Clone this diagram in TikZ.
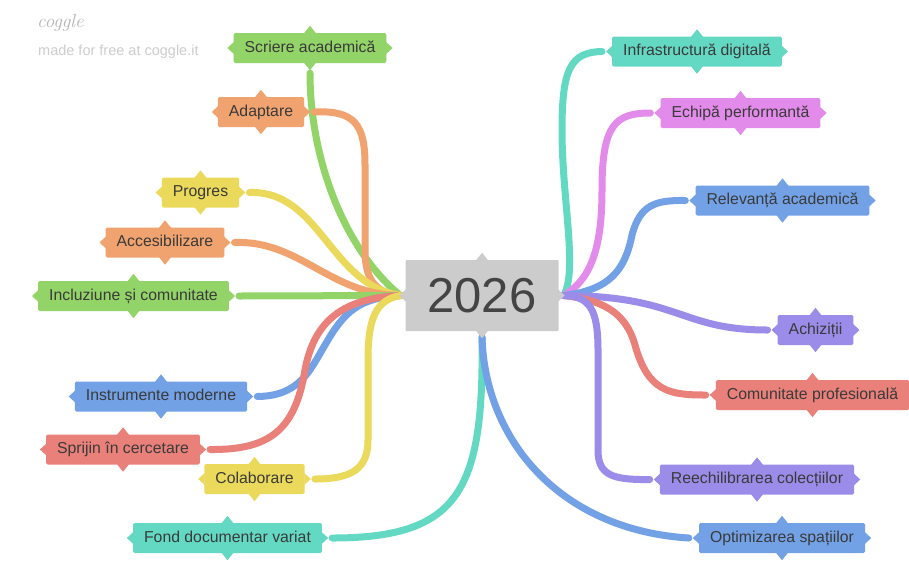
\documentclass[tikz,border=0pt]{standalone}
\usepackage{fontspec}
\newfontfamily\labelfont{Liberation Sans}
\usetikzlibrary{backgrounds}
\definecolor{cgreen}{HTML}{93D468}
\definecolor{corange}{HTML}{F0A36E}
\definecolor{cyellow}{HTML}{EBD95B}
\definecolor{cblue}{HTML}{73A1E6}
\definecolor{cred}{HTML}{E9807A}
\definecolor{cteal}{HTML}{63D9C3}
\definecolor{cpink}{HTML}{E38BEA}
\definecolor{cpurple}{HTML}{9A8CE8}
\definecolor{hubgray}{HTML}{CCCCCC}
\definecolor{ink}{HTML}{3A3A3A}
\definecolor{hubink}{HTML}{444444}
\definecolor{logogray}{HTML}{B4B4B4}
\definecolor{creditgray}{HTML}{CDCDCD}
\tikzset{
	leaf/.style={fill=#1, rounded corners=1.5pt, minimum height=30pt,
		inner xsep=11pt, inner ysep=0pt, text height=11.5pt, text depth=3.3pt,
		text=ink, font=\labelfont\fontsize{15.8}{18}\selectfont},
	branch/.style={draw=#1, line width=7pt, line cap=round, line join=round},
}
\begin{document}
\begin{tikzpicture}[x=1pt, y=-1pt]
	\useasboundingbox (0,0) rectangle (909,574);
	\node[anchor=west, inner sep=0pt, text=logogray, font=\fontsize{19}{19}\selectfont\itshape] (logo) at (37,23) {coggle};
	\node[anchor=west, inner sep=0pt, text=creditgray, font=\labelfont\fontsize{14.5}{16}\selectfont] (credit) at (38,52) {made for free at coggle.it};

	\node[fill=hubgray, rounded corners=1pt, minimum width=153pt, minimum height=71pt,
		text=hubink, font=\labelfont\fontsize{49}{49}\selectfont] (hub) at (482,295.5) {2026};
	\coordinate (hubL) at ([xshift=-5pt]hub.west);
	\coordinate (hubR) at ([xshift=5pt]hub.east);
	\coordinate (hubB) at ([yshift=-6pt]hub.south);

	% left side
	\node[leaf=cgreen] (scriere) at (310,48) {Scriere academică};
	\node[leaf=corange] (adaptare) at (261,112) {Adaptare};
	\node[leaf=cyellow] (progres) at (200.5,192.5) {Progres};
	\node[leaf=corange] (accesib) at (165,242.5) {Accesibilizare};
	\node[leaf=cgreen] (incluz) at (133.5,296) {Incluziune și comunitate};
	\node[leaf=cblue] (instrum) at (161,396.5) {Instrumente moderne};
	\node[leaf=cred] (sprijin) at (123,449.5) {Sprijin în cercetare};
	\node[leaf=cyellow] (colab) at (254.5,479) {Colaborare};
	\node[leaf=cteal] (fond) at (227.5,538) {Fond documentar variat};

	% right side
	\node[leaf=cteal] (infra) at (697,51.5) {Infrastructură digitală};
	\node[leaf=cpink] (echipa) at (740.5,113) {Echipă performantă};
	\node[leaf=cblue] (relev) at (782.5,200.5) {Relevanță academică};
	\node[leaf=cpurple] (achiz) at (815.5,330) {Achiziții};
	\node[leaf=cred] (comun) at (812.5,395) {Comunitate profesională};
	\node[leaf=cpurple] (reech) at (757,479.5) {Reechilibrarea colecțiilor};
	\node[leaf=cblue] (optim) at (782,538) {Optimizarea spațiilor};

	\foreach \n/\c in {hub/hubgray, scriere/cgreen, adaptare/corange, progres/cyellow,
		accesib/corange, incluz/cgreen, instrum/cblue, sprijin/cred, colab/cyellow,
		fond/cteal, infra/cteal, echipa/cpink, relev/cblue, achiz/cpurple,
		comun/cred, reech/cpurple, optim/cblue}{%
		\fill[\c] ([shift={(-6pt,-0.5pt)}]\n.north) -- ++(6pt,7.5pt) -- ++(6pt,-7.5pt) -- cycle;
		\fill[\c] ([shift={(-6pt,0.5pt)}]\n.south) -- ++(6pt,-7.5pt) -- ++(6pt,7.5pt) -- cycle;
		\fill[\c] ([shift={(0.5pt,6pt)}]\n.west) -- ++(-6.5pt,-6pt) -- ++(6.5pt,-6pt) -- cycle;
		\fill[\c] ([shift={(-0.5pt,6pt)}]\n.east) -- ++(6.5pt,-6pt) -- ++(-6.5pt,-6pt) -- cycle;
	}

	\begin{pgfonlayer}{background}
		\fill[white] (0,0) rectangle (909,574);
		\draw[branch=cgreen] ([yshift=-10pt]scriere.south) .. controls (310,160) and (345,250) .. (hubL);
		\draw[branch=corange] ([xshift=10pt]adaptare.east) .. controls (355,110) and (365,125) .. (365,165)
			-- (365,250) .. controls (365,285) and (380,293) .. (hubL);
		\draw[branch=cyellow] ([xshift=10pt]progres.east) .. controls (320,190) and (330,285) .. (hubL);
		\draw[branch=corange] ([xshift=10pt]accesib.east) .. controls (300,240) and (330,295) .. (hubL);
		\draw[branch=cgreen] ([xshift=10pt]incluz.east) -- (hubL);
		\draw[branch=cblue] ([xshift=10pt]instrum.east) .. controls (300,396) and (310,370) .. (325,345)
			.. controls (345,310) and (360,298) .. (hubL);
		\draw[branch=cred] ([xshift=10pt]sprijin.east) .. controls (270,450) and (295,430) .. (305,370)
			.. controls (315,315) and (350,298) .. (hubL);
		\draw[branch=cyellow] ([xshift=10pt]colab.east) .. controls (350,479) and (368,470) .. (368,440)
			-- (368,360) .. controls (368,320) and (375,300) .. (hubL);
		\draw[branch=cteal] (hubB) .. controls (484,490) and (460,538) .. ([xshift=10pt]fond.east);

		\draw[branch=cteal] (hubR) .. controls (578,270) and (562,200) .. (562,130)
			.. controls (562,70) and (570,52) .. ([xshift=-10pt]infra.west);
		\draw[branch=cpink] (hubR) .. controls (590,280) and (602,250) .. (602,190)
			.. controls (602,125) and (615,113) .. ([xshift=-10pt]echipa.west);
		\draw[branch=cblue] (hubR) .. controls (610,290) and (625,270) .. (632,235)
			.. controls (640,205) and (655,200) .. ([xshift=-10pt]relev.west);
		\draw[branch=cpurple] (hubR) .. controls (680,296) and (680,330) .. ([xshift=-10pt]achiz.west);
		\draw[branch=cred] (hubR) .. controls (600,300) and (625,310) .. (635,345)
			.. controls (648,392) and (670,395) .. ([xshift=-10pt]comun.west);
		\draw[branch=cpurple] (hubR) .. controls (590,296) and (598,310) .. (598,350)
			-- (598,450) .. controls (598,475) and (612,480) .. ([xshift=-10pt]reech.west);
		\draw[branch=cblue] (hubB) .. controls (485,440) and (560,530) .. ([xshift=-10pt]optim.west);
	\end{pgfonlayer}
\end{tikzpicture}
\end{document}
